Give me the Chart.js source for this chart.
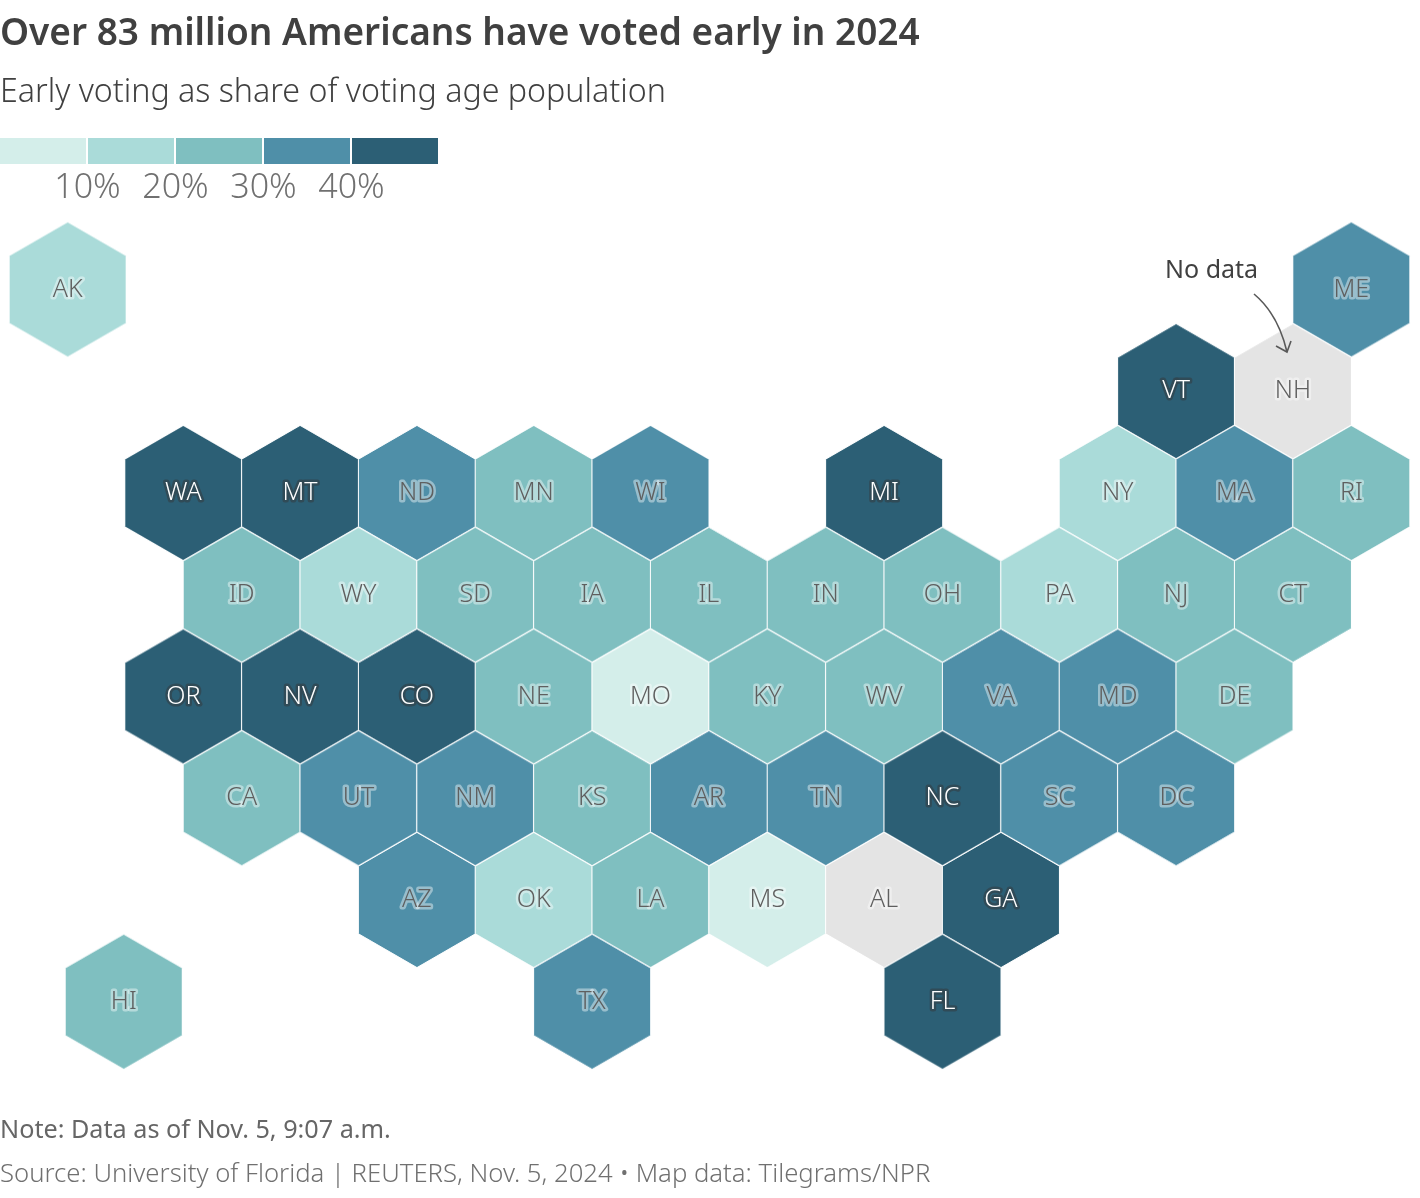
<!DOCTYPE html>
<html>
<head>
<meta charset="UTF-8" />
<script src="https://cdn.jsdelivr.net/npm/chart.js@4/dist/chart.umd.min.js"></script>
<style>
	html, body { margin: 0; padding: 0; background: #fff; }
	body { position: relative; width: 1420px; height: 1198px; overflow: hidden; font-family: "Noto Sans", sans-serif; }
	#map { position: absolute; left: 0; top: 0; }
	.txt { position: absolute; white-space: nowrap; line-height: 1; }
	#title { left: 0; top: 12px; font-size: 37px; font-weight: 600; color: #404040; }
	#subtitle { left: 0; top: 74px; font-size: 32.2px; font-weight: 300; color: #404040; }
	#nodata { left: 1165px; top: 256px; font-size: 25px; color: #404040; }
	#note { left: 0; top: 1116px; font-size: 25.2px; color: #666; }
	#source { left: 0; top: 1160px; font-size: 25.7px; font-weight: 300; color: #707070; }
	.swatch { position: absolute; top: 138px; width: 86px; height: 26px; }
	.tick { position: absolute; top: 168px; width: 88px; text-align: center; font-size: 34px; font-weight: 300; color: #707070; line-height: 1; }
	#arrow { position: absolute; left: 0; top: 0; }
</style>
</head>
<body>
<canvas id="map" width="1420" height="1198"></canvas>
<div class="txt" id="title">Over 83 million Americans have voted early in 2024</div>
<div class="txt" id="subtitle">Early voting as share of voting age population</div>
<div id="legend"></div>
<div class="txt" id="nodata">No data</div>
<svg id="arrow" width="1420" height="1198" fill="none" stroke="#595959" stroke-width="1.6">
	<path d="M1254 294 Q1278 314 1287 352" />
	<path d="M1276 346 L1287 352 L1291 341" />
</svg>
<div class="txt" id="note">Note: Data as of Nov. 5, 9:07 a.m.</div>
<div class="txt" id="source">Source: University of Florida | REUTERS, Nov. 5, 2024 • Map data: Tilegrams/NPR</div>
<script>
	// tilegram position of each state, col in half hexagon steps
	const states = ['AK','ME','VT','NH','WA','MT','ND','MN','WI','MI','NY','MA','RI',
		'ID','WY','SD','IA','IL','IN','OH','PA','NJ','CT',
		'OR','NV','CO','NE','MO','KY','WV','VA','MD','DE',
		'CA','UT','NM','KS','AR','TN','NC','SC','DC',
		'AZ','OK','LA','MS','AL','GA',
		'HI','TX','FL'];
	const cols = [0.02,22,19,21,2,4,6,8,10,14,18,20,22,
		3,5,7,9,11,13,15,17,19,21,
		2,4,6,8,10,12,14,16,18,20,
		3,5,7,9,11,13,15,17,19,
		6,8,10,12,14,16,
		0.98,9,15];
	const rows = [0,0,1,1,2,2,2,2,2,2,2,2,2,
		3,3,3,3,3,3,3,3,3,3,
		4,4,4,4,4,4,4,4,4,4,
		5,5,5,5,5,5,5,5,5,
		6,6,6,6,6,6,
		7,7,7];
	// share class read from the colour: 0 under 10%, 1 10-20, 2 20-30, 3 30-40, 4 over 40, null no data
	const shareClass = [1,3,4,null,4,4,3,2,3,4,1,3,2,
		2,1,2,2,2,2,2,1,2,2,
		4,4,4,2,0,2,2,3,3,2,
		2,3,3,2,3,3,4,3,3,
		3,1,2,0,null,4,
		2,3,4];
	const classColors = ['#d4eeea','#aadbd9','#7fbfc0','#4f8fa8','#2c5f75'];
	const noDataColor = '#e4e4e4';
	const legendTicks = ['10%','20%','30%','40%'];

	// legend strip
	const legend = document.getElementById('legend');
	classColors.forEach(function(c, i){
		const s = document.createElement('div');
		s.className = 'swatch';
		s.style.left = (i * 88) + 'px';
		s.style.background = c;
		legend.appendChild(s);
	});
	legendTicks.forEach(function(t, i){
		const d = document.createElement('div');
		d.className = 'tick';
		d.style.left = (43.5 + i * 88) + 'px';
		d.textContent = t;
		legend.appendChild(d);
	});

	// one hexagon sprite per colour, used as the point style
	function hexSprite(color) {
		const r = 67.6;
		const c = document.createElement('canvas');
		c.width = 120;
		c.height = 138;
		const g = c.getContext('2d');
		g.translate(60, 69);
		g.beginPath();
		for (let i = 0; i < 6; i++) {
			const a = Math.PI / 3 * i - Math.PI / 2;
			g.lineTo(r * Math.cos(a), r * Math.sin(a));
		}
		g.closePath();
		g.fillStyle = color;
		g.fill();
		g.strokeStyle = '#fff';
		g.lineWidth = 1;
		g.stroke();
		return c;
	}
	const sprites = classColors.map(hexSprite);
	const noDataSprite = hexSprite(noDataColor);

	const stateLabels = {
		id: 'stateLabels',
		afterDatasetsDraw: function(chart) {
			const ctx = chart.ctx;
			const meta = chart.getDatasetMeta(0);
			ctx.save();
			ctx.font = '300 25px "Noto Sans"';
			ctx.textAlign = 'center';
			ctx.textBaseline = 'middle';
			ctx.lineJoin = 'round';
			meta.data.forEach(function(pt, i){
				const dark = shareClass[i] === 4;
				ctx.lineWidth = 5;
				ctx.strokeStyle = dark ? 'rgba(50,70,80,0.8)' : 'rgba(255,255,255,0.42)';
				ctx.fillStyle = dark ? '#fff' : '#5f5f5f';
				ctx.strokeText(states[i], pt.x, pt.y);
				ctx.fillText(states[i], pt.x, pt.y);
			});
			ctx.restore();
		}
	};

	new Chart(document.getElementById('map'), {
		type: 'scatter',
		data: {
			datasets: [{
				data: states.map(function(s, i){ return { x: cols[i], y: rows[i] }; }),
				pointStyle: shareClass.map(function(k){ return k === null ? noDataSprite : sprites[k]; }),
				pointRadius: 60,
				pointHoverRadius: 60
			}]
		},
		options: {
			responsive: false,
			animation: false,
			events: [],
			layout: { padding: 0, autoPadding: false },
			plugins: { legend: { display: false }, tooltip: { enabled: false } },
			scales: {
				x: { display: false, bounds: 'data', min: -66.5 / 58.4, max: (1420 - 66.5) / 58.4 },
				y: { display: false, bounds: 'data', reverse: true, min: -289.5 / 101.75, max: (1198 - 289.5) / 101.75 }
			}
		},
		plugins: [stateLabels]
	});
</script>
</body>
</html>
